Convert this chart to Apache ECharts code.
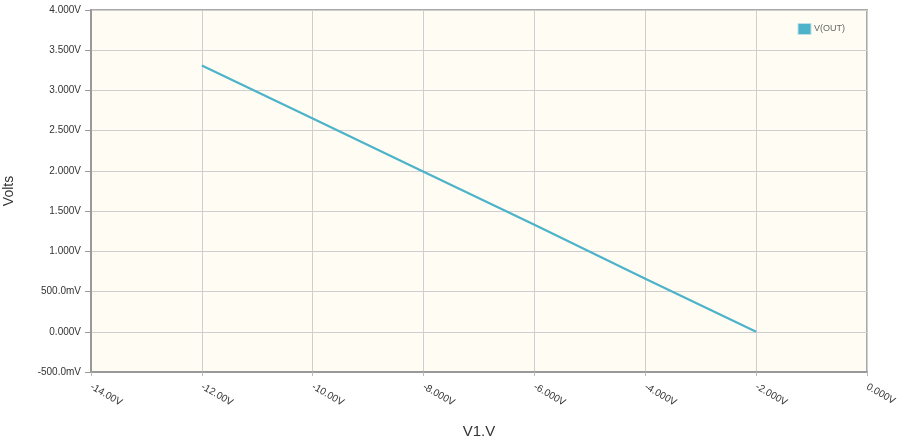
<!DOCTYPE html>
<html><head><meta charset="utf-8">
<script src="https://cdn.jsdelivr.net/npm/echarts@6/dist/echarts.min.js"></script>
<style>html,body{margin:0;padding:0;background:#fff}#c{width:898px;height:447px}</style>
</head><body><div id="c"></div>
<script>
const v1 = [-12, -10, -8, -6, -4, -2];
const vout = [3.31, 2.65, 1.99, 1.33, 0.66, 0.0];
const xTickValues = [-14, -12, -10, -8, -6, -4, -2, 0];
const xTickLabels = ["-14.00V", "-12.00V", "-10.00V", "-8.000V", "-6.000V", "-4.000V", "-2.000V", "0.000V"];
const yTickValues = [-0.5, 0, 0.5, 1, 1.5, 2, 2.5, 3, 3.5, 4];
const yTickLabels = ["-500.0mV", "0.000V", "500.0mV", "1.000V", "1.500V", "2.000V", "2.500V", "3.000V", "3.500V", "4.000V"];
const seriesName = "V(OUT)";

function lab(vals, labels, v) {
  for (let i = 0; i < vals.length; i++) if (Math.abs(vals[i] - v) < 1e-9) return labels[i];
  return '';
}
const chart = echarts.init(document.getElementById('c'), null, {renderer: 'canvas'});
chart.setOption({
  animation: false,
  backgroundColor: '#ffffff',
  textStyle: {fontFamily: 'Liberation Sans, Arial, sans-serif'},
  grid: {left: 91, right: 31, top: 10, bottom: 75, containLabel: false, outerBoundsMode: 'none',
    show: true, backgroundColor: '#fffcf4', borderColor: '#a8a8a8', borderWidth: 2},
  legend: {
    right: 48, top: 18, itemWidth: 13, itemHeight: 11, itemGap: 4,
    icon: 'rect',
    textStyle: {fontSize: 9, color: '#666', padding: [-6, 0, 0, -2]},
    data: [{name: seriesName, itemStyle: {borderColor: '#bcdfe8', borderWidth: 1}}]
  },
  xAxis: {
    type: 'value', min: -14, max: 0, interval: 2,
    name: 'V1.V', nameLocation: 'middle', nameGap: 52,
    nameTextStyle: {fontSize: 15, color: '#333'},
    axisLine: {show: true, onZero: false, lineStyle: {color: '#999', width: 2}},
    axisTick: {show: true, length: 4, lineStyle: {color: '#bbb'}},
    splitLine: {show: true, lineStyle: {color: '#cfcfcf', width: 1}},
    axisLabel: {rotate: -30, fontSize: 10, color: '#333', margin: 14,
      formatter: v => lab(xTickValues, xTickLabels, v)}
  },
  yAxis: {
    type: 'value', min: -0.5, max: 4, interval: 0.5,
    name: 'Volts', nameLocation: 'middle', nameGap: 75, nameRotate: 90,
    nameTextStyle: {fontSize: 14, color: '#333'},
    axisLine: {show: true, onZero: false, lineStyle: {color: '#999', width: 2}},
    axisTick: {show: true, length: 6, lineStyle: {color: '#999'}},
    splitLine: {show: true, lineStyle: {color: '#cfcfcf', width: 1}},
    axisLabel: {fontSize: 10, color: '#333', margin: 10,
      formatter: v => lab(yTickValues, yTickLabels, v)}
  },
  series: [{
    name: seriesName, type: 'line', showSymbol: false, symbol: 'none',
    data: v1.map((x, i) => [x, vout[i]]),
    lineStyle: {color: '#4cb3c9', width: 2.2},
    itemStyle: {color: '#4cb3c9'}
  }]
});
</script></body></html>
